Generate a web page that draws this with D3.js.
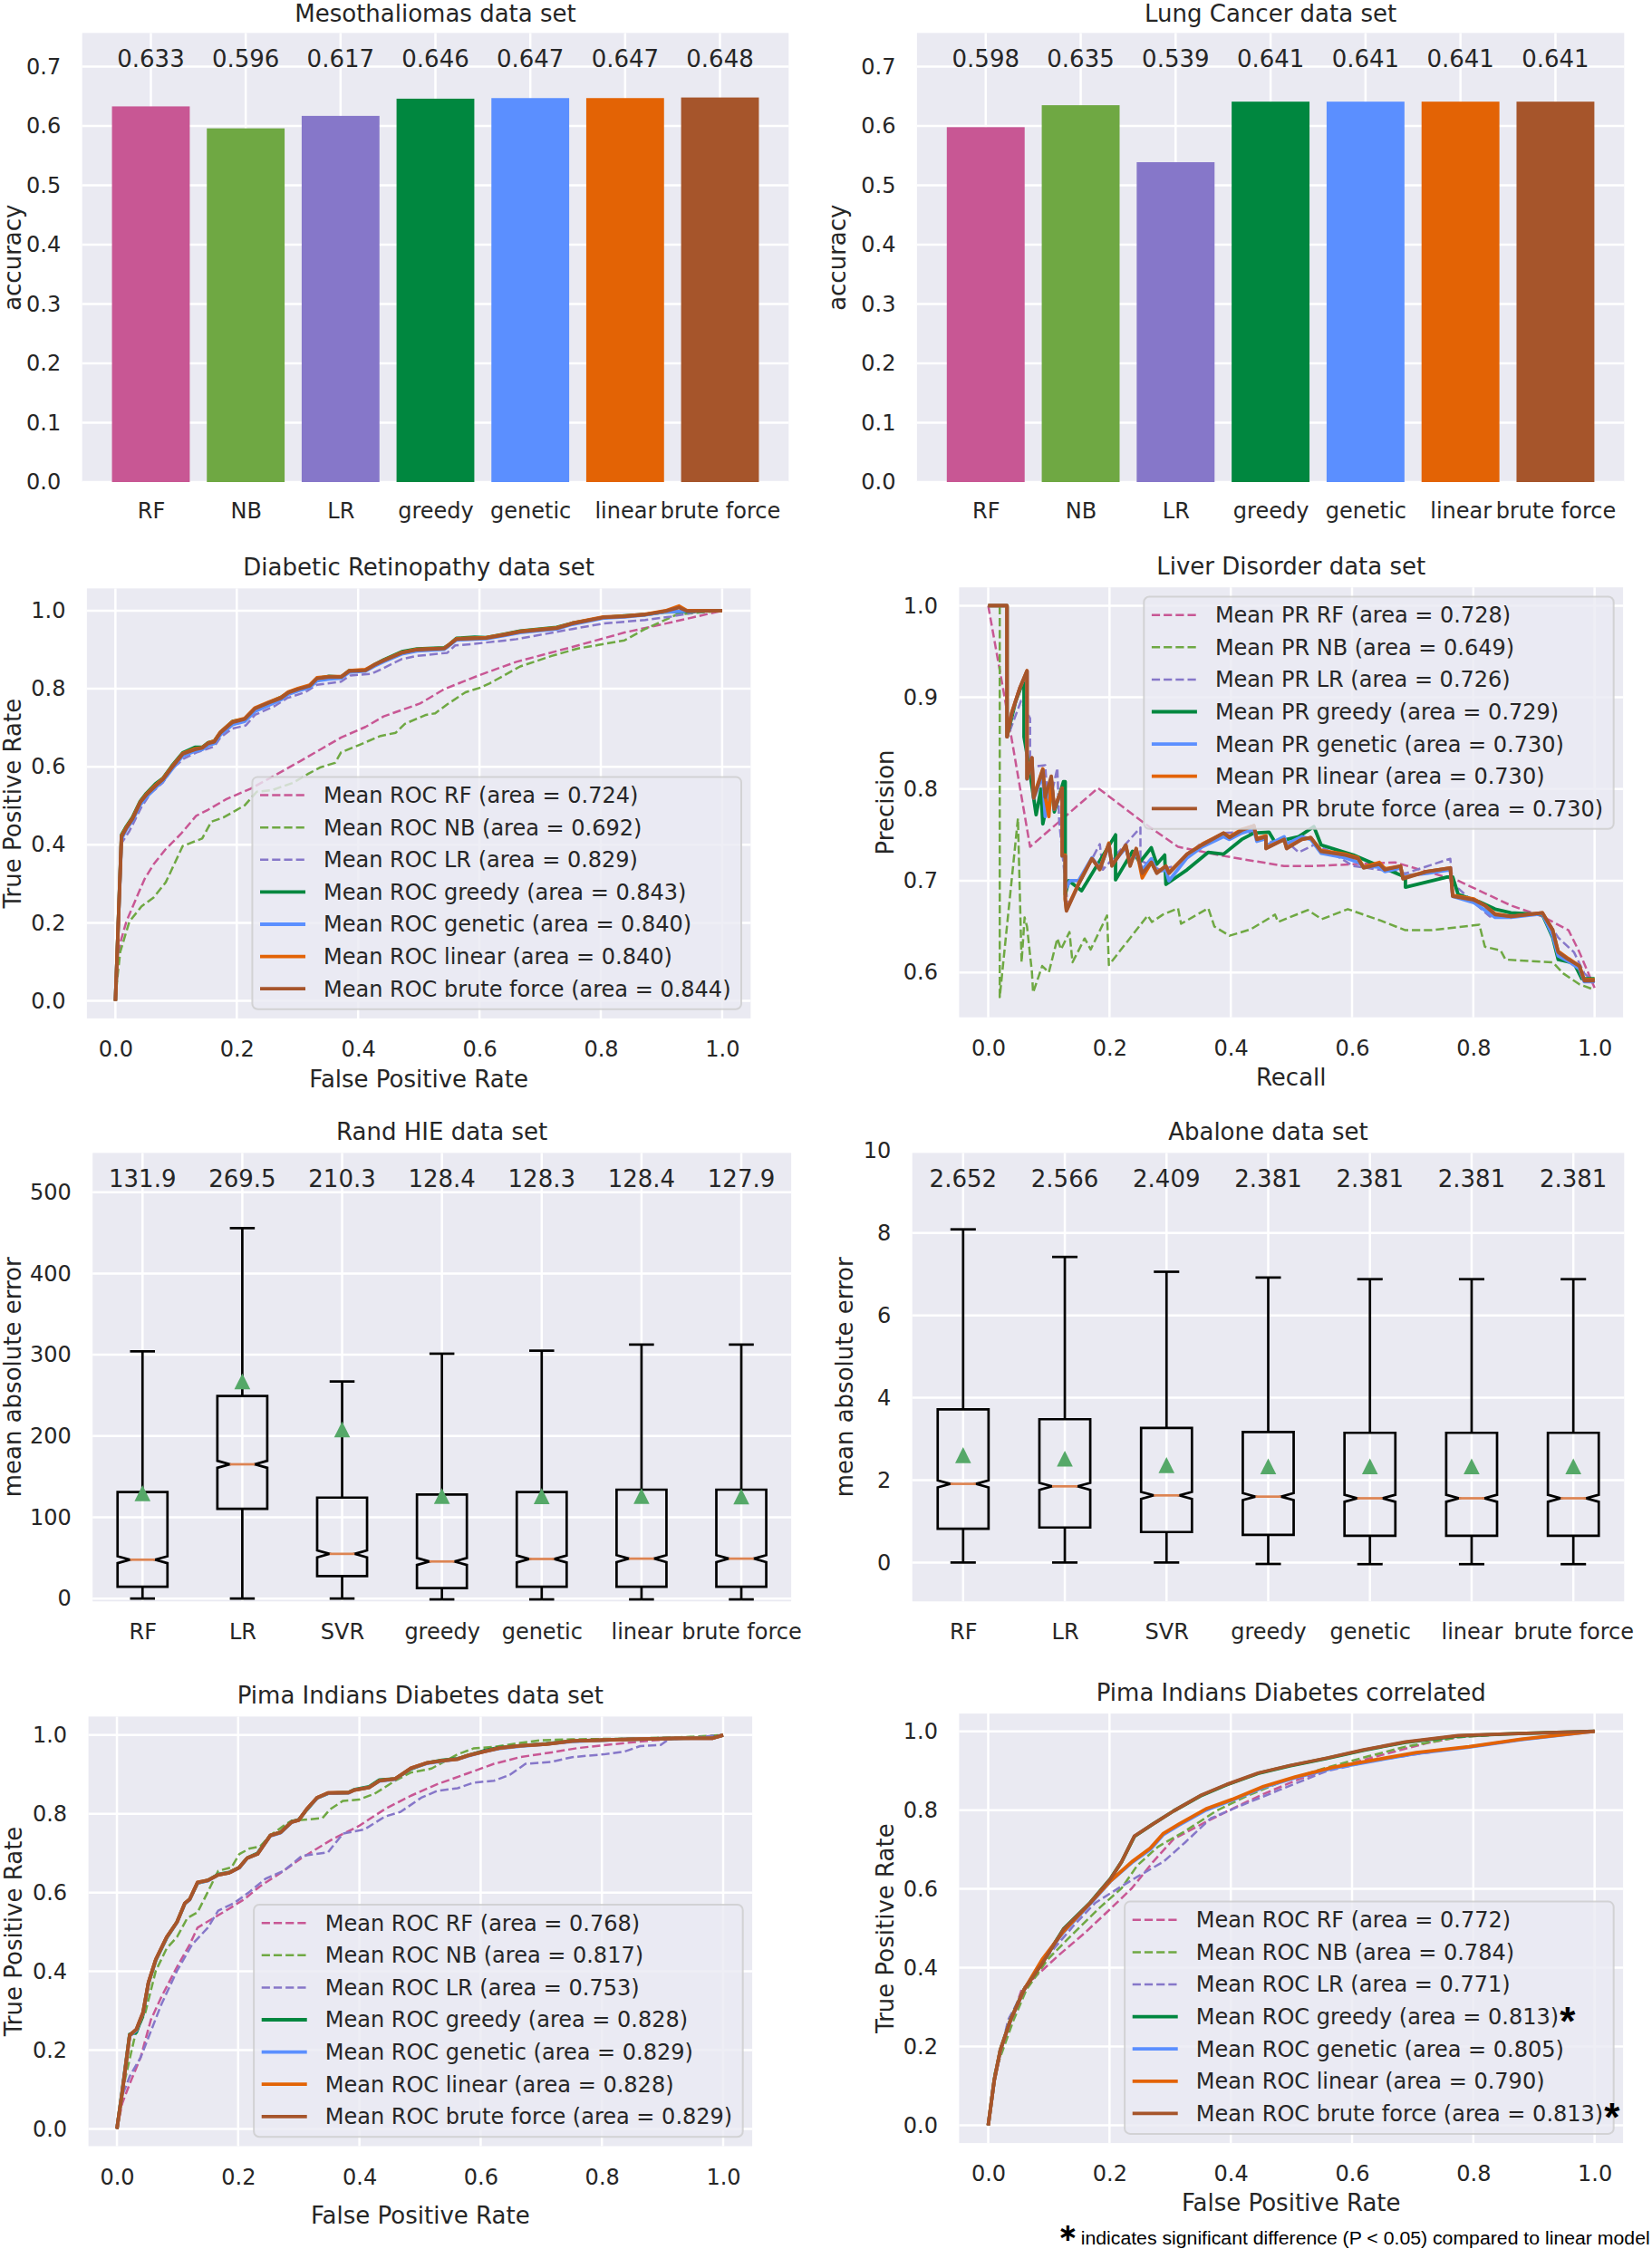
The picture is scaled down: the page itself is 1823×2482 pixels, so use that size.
<!DOCTYPE html>
<html>
<head>
<meta charset="utf-8">
<script src="https://cdn.jsdelivr.net/npm/d3@7"></script>
<style>
body { margin: 0; background: #fff; }
svg text { font-family: "DejaVu Sans", sans-serif; fill: #262626; }
</style>
</head>
<body>
<script>
// ---------- data ----------
var barModels = ["RF", "NB", "LR", "greedy", "genetic", "linear", "brute force"];
var boxModels = ["RF", "LR", "SVR", "greedy", "genetic", "linear", "brute force"];
var curveModels = ["RF", "NB", "LR", "greedy", "genetic", "linear", "brute force"];

var mesoAcc = [0.633, 0.596, 0.617, 0.646, 0.647, 0.647, 0.648];
var lungAcc = [0.598, 0.635, 0.539, 0.641, 0.641, 0.641, 0.641];
var accTicks = [0, 0.1, 0.2, 0.3, 0.4, 0.5, 0.6, 0.7];
var rateTicks = [0, 0.2, 0.4, 0.6, 0.8, 1.0];
var precTicks = [0.6, 0.7, 0.8, 0.9, 1.0];
var randTicks = [0, 100, 200, 300, 400, 500];
var abaTicks = [0, 2, 4, 6, 8, 10];

// Rand HIE boxplots
var randMean = [131.9, 269.5, 210.3, 128.4, 128.3, 128.4, 127.9];
var randLo   = [0, 0, 0, -1, -1, -1, -1];
var randQ1   = [14.5, 110.5, 27.7, 12.8, 14.5, 14.5, 14.5];
var randMed  = [47.8, 165.2, 55, 45.6, 48.7, 49.1, 49.1];
var randQ3   = [131, 249.3, 124.2, 128, 131, 134, 134];
var randHi   = [304.2, 455.8, 267.1, 301.3, 305, 312.5, 312.5];
var randCI   = [4.3, 4.3, 4.3, 4.3, 4.3, 4.3, 4.3];

// Abalone boxplots
var abaMean = [2.652, 2.566, 2.409, 2.381, 2.381, 2.381, 2.381];
var abaLo   = [0, 0, 0, -0.035, -0.04, -0.04, -0.04];
var abaQ1   = [0.82, 0.85, 0.74, 0.67, 0.65, 0.65, 0.65];
var abaMed  = [1.91, 1.85, 1.63, 1.60, 1.56, 1.56, 1.56];
var abaQ3   = [3.72, 3.48, 3.27, 3.17, 3.15, 3.15, 3.15];
var abaHi   = [8.09, 7.42, 7.06, 6.92, 6.88, 6.88, 6.88];
var abaCI   = [0.085, 0.085, 0.085, 0.085, 0.085, 0.085, 0.085];

// Diabetic Retinopathy ROC
var drArea = [0.724, 0.692, 0.829, 0.843, 0.840, 0.840, 0.844];
var drRF = [[0,0],[0.003,0.072],[0.008,0.149],[0.018,0.203],[0.033,0.258],[0.048,0.312],[0.063,0.35],[0.083,0.389],[0.108,0.428],[0.133,0.474],[0.153,0.49],[0.183,0.517],[0.223,0.544],[0.263,0.578],[0.303,0.613],[0.342,0.648],[0.372,0.675],[0.412,0.702],[0.442,0.729],[0.502,0.762],[0.542,0.799],[0.602,0.836],[0.661,0.869],[0.753,0.907],[0.839,0.944],[0.907,0.967],[1,1]];
var drNB = [[0,0],[0.003,0.056],[0.008,0.126],[0.023,0.203],[0.043,0.242],[0.063,0.265],[0.083,0.304],[0.111,0.397],[0.143,0.416],[0.158,0.459],[0.178,0.47],[0.213,0.501],[0.233,0.536],[0.258,0.54],[0.293,0.559],[0.318,0.582],[0.337,0.598],[0.362,0.61],[0.372,0.637],[0.402,0.656],[0.437,0.679],[0.462,0.687],[0.477,0.71],[0.512,0.733],[0.527,0.737],[0.547,0.76],[0.577,0.791],[0.602,0.803],[0.617,0.814],[0.636,0.83],[0.667,0.857],[0.719,0.884],[0.762,0.903],[0.796,0.912],[0.839,0.924],[0.873,0.953],[0.925,0.99],[1,1]];
var drLR = [[0,0],[0.01,0.404],[0.023,0.435],[0.043,0.497],[0.058,0.532],[0.078,0.559],[0.093,0.594],[0.113,0.621],[0.133,0.636],[0.163,0.652],[0.173,0.675],[0.193,0.698],[0.215,0.706],[0.23,0.733],[0.263,0.756],[0.283,0.776],[0.313,0.791],[0.332,0.81],[0.372,0.818],[0.387,0.834],[0.422,0.838],[0.442,0.853],[0.472,0.876],[0.497,0.884],[0.547,0.892],[0.56,0.911],[0.592,0.915],[0.661,0.927],[0.753,0.953],[0.804,0.967],[0.873,0.976],[0.916,0.985],[0.959,0.997],[1,1]];
var drGreedy = [[0,0],[0.01,0.425],[0.018,0.447],[0.028,0.47],[0.041,0.512],[0.051,0.532],[0.066,0.556],[0.078,0.57],[0.093,0.602],[0.111,0.636],[0.131,0.65],[0.143,0.65],[0.153,0.662],[0.163,0.666],[0.173,0.688],[0.193,0.716],[0.213,0.722],[0.23,0.748],[0.253,0.764],[0.273,0.778],[0.285,0.79],[0.302,0.8],[0.32,0.807],[0.332,0.826],[0.352,0.832],[0.372,0.83],[0.385,0.846],[0.412,0.847],[0.427,0.862],[0.442,0.874],[0.472,0.895],[0.497,0.902],[0.542,0.905],[0.549,0.912],[0.562,0.929],[0.592,0.932],[0.611,0.931],[0.641,0.94],[0.667,0.948],[0.727,0.957],[0.753,0.968],[0.804,0.982],[0.839,0.987],[0.873,0.99],[0.907,0.997],[0.942,0.998],[1,1]];
var drGenetic = [[0,0],[0.01,0.415],[0.018,0.44],[0.028,0.462],[0.041,0.503],[0.051,0.522],[0.066,0.546],[0.078,0.563],[0.093,0.593],[0.111,0.628],[0.131,0.64],[0.143,0.644],[0.153,0.655],[0.163,0.66],[0.173,0.682],[0.193,0.708],[0.213,0.716],[0.23,0.742],[0.253,0.758],[0.273,0.772],[0.285,0.786],[0.302,0.795],[0.32,0.803],[0.332,0.82],[0.352,0.825],[0.372,0.827],[0.385,0.842],[0.412,0.845],[0.427,0.858],[0.442,0.869],[0.472,0.889],[0.497,0.897],[0.542,0.901],[0.549,0.909],[0.562,0.925],[0.592,0.927],[0.611,0.928],[0.641,0.936],[0.667,0.944],[0.727,0.953],[0.753,0.965],[0.804,0.981],[0.839,0.984],[0.873,0.989],[0.907,0.997],[0.942,0.999],[1,1]];
var drLinear = [[0,0],[0.01,0.423],[0.018,0.445],[0.028,0.468],[0.041,0.51],[0.051,0.53],[0.066,0.553],[0.078,0.569],[0.093,0.6],[0.111,0.634],[0.131,0.646],[0.143,0.649],[0.153,0.661],[0.163,0.666],[0.173,0.689],[0.193,0.716],[0.213,0.724],[0.23,0.751],[0.253,0.766],[0.273,0.778],[0.285,0.792],[0.302,0.801],[0.32,0.809],[0.332,0.828],[0.352,0.831],[0.372,0.831],[0.385,0.846],[0.412,0.849],[0.427,0.862],[0.442,0.873],[0.472,0.893],[0.497,0.901],[0.542,0.904],[0.549,0.912],[0.562,0.928],[0.592,0.93],[0.611,0.931],[0.641,0.939],[0.667,0.947],[0.727,0.956],[0.753,0.968],[0.804,0.984],[0.839,0.986],[0.873,0.991],[0.907,1.0],[0.929,1.012],[0.942,1.0],[1,1]];
var drBrute = [[0,0],[0.01,0.42],[0.018,0.443],[0.028,0.466],[0.041,0.509],[0.051,0.528],[0.066,0.551],[0.078,0.567],[0.093,0.598],[0.111,0.633],[0.131,0.644],[0.143,0.648],[0.153,0.66],[0.163,0.664],[0.173,0.687],[0.193,0.714],[0.213,0.722],[0.23,0.749],[0.253,0.764],[0.273,0.776],[0.285,0.79],[0.302,0.799],[0.32,0.807],[0.332,0.826],[0.352,0.83],[0.372,0.83],[0.385,0.845],[0.412,0.847],[0.427,0.861],[0.442,0.872],[0.472,0.892],[0.497,0.9],[0.542,0.903],[0.549,0.911],[0.562,0.927],[0.592,0.929],[0.611,0.93],[0.641,0.938],[0.667,0.946],[0.727,0.955],[0.753,0.967],[0.804,0.983],[0.839,0.985],[0.873,0.99],[0.907,0.999],[0.929,1.008],[0.942,0.999],[1,1]];

// Liver Disorder PR
var liverArea = [0.728, 0.649, 0.726, 0.729, 0.730, 0.730, 0.730];
var liverRF = [[0,1],[0.027,0.9],[0.069,0.737],[0.181,0.801],[0.259,0.762],[0.313,0.737],[0.388,0.727],[0.488,0.716],[0.537,0.716],[0.602,0.718],[0.671,0.72],[0.775,0.7],[0.862,0.673],[0.914,0.661],[0.957,0.646],[0.975,0.622],[1,0.583]];
var liverNB = [[0,1],[0.019,1],[0.019,0.573],[0.049,0.768],[0.052,0.689],[0.055,0.611],[0.06,0.66],[0.064,0.65],[0.068,0.625],[0.072,0.601],[0.074,0.578],[0.089,0.607],[0.1,0.6],[0.114,0.637],[0.12,0.625],[0.134,0.644],[0.139,0.611],[0.159,0.637],[0.169,0.625],[0.196,0.662],[0.199,0.608],[0.263,0.662],[0.27,0.655],[0.288,0.663],[0.313,0.67],[0.318,0.653],[0.363,0.67],[0.373,0.65],[0.398,0.64],[0.433,0.647],[0.473,0.663],[0.478,0.655],[0.527,0.668],[0.55,0.658],[0.593,0.669],[0.645,0.657],[0.688,0.646],[0.732,0.646],[0.81,0.652],[0.819,0.628],[0.845,0.624],[0.853,0.614],[0.931,0.611],[0.948,0.599],[0.975,0.587],[1,0.581]];
var liverLR = [[0,1],[0.03,1],[0.032,0.857],[0.054,0.896],[0.069,0.877],[0.069,0.824],[0.094,0.826],[0.099,0.778],[0.114,0.823],[0.117,0.765],[0.131,0.673],[0.184,0.74],[0.189,0.712],[0.251,0.758],[0.251,0.722],[0.283,0.712],[0.308,0.716],[0.348,0.739],[0.388,0.752],[0.413,0.753],[0.438,0.752],[0.463,0.742],[0.488,0.745],[0.512,0.731],[0.537,0.739],[0.558,0.734],[0.602,0.716],[0.688,0.708],[0.762,0.724],[0.766,0.697],[0.827,0.661],[0.914,0.665],[0.94,0.638],[0.966,0.622],[0.983,0.599],[1,0.589]];
var liverGreedy = [[0,1],[0.031,1],[0.031,0.857],[0.045,0.895],[0.059,0.92],[0.059,0.857],[0.066,0.83],[0.079,0.772],[0.087,0.8],[0.09,0.762],[0.104,0.805],[0.109,0.775],[0.124,0.808],[0.127,0.808],[0.127,0.685],[0.133,0.7],[0.154,0.689],[0.21,0.75],[0.21,0.701],[0.238,0.732],[0.25,0.72],[0.269,0.736],[0.278,0.718],[0.291,0.728],[0.293,0.696],[0.328,0.712],[0.363,0.731],[0.388,0.729],[0.418,0.745],[0.438,0.752],[0.463,0.753],[0.473,0.742],[0.512,0.748],[0.537,0.759],[0.549,0.739],[0.602,0.728],[0.645,0.716],[0.688,0.704],[0.688,0.693],[0.757,0.704],[0.766,0.704],[0.775,0.685],[0.81,0.677],[0.836,0.669],[0.862,0.665],[0.914,0.663],[0.931,0.638],[0.94,0.614],[0.966,0.61],[0.979,0.593],[1,0.593]];
var liverGenetic = [[0,1],[0.031,1],[0.031,0.857],[0.039,0.883],[0.052,0.91],[0.064,0.928],[0.064,0.811],[0.072,0.834],[0.075,0.79],[0.09,0.815],[0.094,0.77],[0.104,0.81],[0.109,0.778],[0.122,0.8],[0.122,0.727],[0.127,0.727],[0.127,0.69],[0.135,0.7],[0.149,0.7],[0.171,0.725],[0.184,0.714],[0.199,0.738],[0.204,0.718],[0.227,0.736],[0.234,0.72],[0.244,0.73],[0.254,0.712],[0.269,0.724],[0.278,0.71],[0.293,0.712],[0.298,0.7],[0.328,0.725],[0.353,0.737],[0.388,0.748],[0.398,0.745],[0.418,0.752],[0.438,0.756],[0.443,0.743],[0.458,0.746],[0.458,0.738],[0.488,0.748],[0.492,0.74],[0.517,0.748],[0.532,0.745],[0.549,0.73],[0.589,0.725],[0.61,0.72],[0.619,0.716],[0.645,0.715],[0.654,0.71],[0.68,0.714],[0.684,0.705],[0.723,0.708],[0.762,0.712],[0.766,0.683],[0.801,0.676],[0.819,0.668],[0.836,0.66],[0.862,0.66],[0.914,0.664],[0.931,0.64],[0.94,0.618],[0.957,0.612],[0.975,0.604],[0.983,0.59],[1,0.59]];
var liverLinear = [[0,1],[0.031,1],[0.031,0.857],[0.039,0.884],[0.052,0.91],[0.064,0.929],[0.064,0.812],[0.072,0.834],[0.075,0.792],[0.09,0.822],[0.094,0.792],[0.1,0.77],[0.104,0.81],[0.109,0.779],[0.122,0.801],[0.122,0.728],[0.127,0.728],[0.127,0.68],[0.129,0.668],[0.149,0.697],[0.171,0.724],[0.184,0.713],[0.199,0.741],[0.204,0.717],[0.227,0.738],[0.234,0.717],[0.244,0.735],[0.254,0.703],[0.269,0.72],[0.278,0.709],[0.293,0.716],[0.298,0.709],[0.328,0.729],[0.353,0.74],[0.388,0.752],[0.398,0.748],[0.418,0.756],[0.438,0.76],[0.443,0.746],[0.458,0.749],[0.458,0.736],[0.488,0.745],[0.492,0.736],[0.517,0.745],[0.532,0.747],[0.549,0.733],[0.589,0.729],[0.61,0.725],[0.619,0.715],[0.645,0.72],[0.654,0.713],[0.68,0.716],[0.684,0.703],[0.723,0.71],[0.762,0.714],[0.766,0.684],[0.801,0.68],[0.819,0.673],[0.836,0.664],[0.862,0.661],[0.914,0.665],[0.931,0.646],[0.94,0.623],[0.957,0.615],[0.975,0.607],[0.983,0.592],[1,0.592]];
var liverBrute = [[0,1],[0.031,1],[0.031,0.857],[0.039,0.883],[0.052,0.91],[0.064,0.929],[0.064,0.811],[0.072,0.834],[0.075,0.79],[0.09,0.821],[0.094,0.791],[0.104,0.814],[0.109,0.778],[0.122,0.801],[0.122,0.727],[0.127,0.727],[0.127,0.68],[0.129,0.667],[0.149,0.696],[0.171,0.724],[0.184,0.712],[0.199,0.74],[0.204,0.716],[0.227,0.739],[0.234,0.716],[0.244,0.735],[0.254,0.708],[0.269,0.72],[0.278,0.708],[0.293,0.716],[0.298,0.708],[0.328,0.729],[0.353,0.739],[0.388,0.752],[0.398,0.747],[0.418,0.755],[0.438,0.76],[0.443,0.745],[0.458,0.748],[0.458,0.735],[0.488,0.745],[0.492,0.735],[0.517,0.745],[0.532,0.747],[0.549,0.732],[0.589,0.728],[0.61,0.724],[0.619,0.714],[0.645,0.718],[0.654,0.712],[0.68,0.716],[0.684,0.702],[0.723,0.71],[0.762,0.714],[0.766,0.683],[0.801,0.679],[0.819,0.673],[0.836,0.663],[0.862,0.661],[0.914,0.665],[0.931,0.646],[0.94,0.622],[0.957,0.614],[0.975,0.607],[0.983,0.591],[1,0.591]];

// Pima Indians Diabetes ROC
var pimaArea = [0.768, 0.817, 0.753, 0.828, 0.829, 0.828, 0.829];
var pimaRF = [[0,0],[0.009,0.066],[0.021,0.114],[0.039,0.181],[0.056,0.277],[0.073,0.334],[0.099,0.411],[0.12,0.468],[0.133,0.511],[0.159,0.535],[0.185,0.559],[0.21,0.583],[0.236,0.616],[0.27,0.65],[0.305,0.688],[0.356,0.736],[0.399,0.769],[0.442,0.812],[0.485,0.846],[0.528,0.875],[0.579,0.903],[0.622,0.927],[0.665,0.944],[0.717,0.956],[0.76,0.967],[0.82,0.977],[0.888,0.987],[0.948,0.992],[1,1]];
var pimaNB = [[0,0],[0.013,0.123],[0.03,0.238],[0.047,0.296],[0.064,0.401],[0.082,0.458],[0.099,0.487],[0.116,0.535],[0.133,0.55],[0.15,0.602],[0.167,0.655],[0.189,0.664],[0.202,0.698],[0.219,0.712],[0.236,0.717],[0.253,0.745],[0.279,0.774],[0.288,0.782],[0.339,0.789],[0.352,0.812],[0.373,0.833],[0.399,0.836],[0.425,0.851],[0.459,0.884],[0.485,0.905],[0.519,0.915],[0.545,0.937],[0.562,0.951],[0.588,0.966],[0.622,0.97],[0.665,0.98],[0.7,0.987],[0.751,0.989],[0.837,0.991],[0.923,0.994],[1,1]];
var pimaLR = [[0,0],[0.009,0.085],[0.021,0.133],[0.039,0.181],[0.056,0.248],[0.073,0.315],[0.099,0.401],[0.124,0.468],[0.15,0.511],[0.167,0.554],[0.193,0.573],[0.219,0.602],[0.245,0.635],[0.275,0.655],[0.305,0.693],[0.348,0.702],[0.373,0.75],[0.408,0.76],[0.442,0.793],[0.468,0.805],[0.502,0.841],[0.528,0.858],[0.562,0.865],[0.588,0.879],[0.622,0.884],[0.648,0.899],[0.674,0.927],[0.717,0.932],[0.751,0.944],[0.803,0.951],[0.837,0.958],[0.863,0.972],[0.897,0.975],[0.91,0.989],[1,1]];
var pimaGreedy = [[0,0],[0.009,0.1],[0.021,0.24],[0.032,0.245],[0.043,0.29],[0.052,0.37],[0.064,0.428],[0.082,0.485],[0.099,0.525],[0.112,0.572],[0.12,0.583],[0.133,0.624],[0.15,0.631],[0.167,0.646],[0.185,0.651],[0.202,0.664],[0.215,0.688],[0.232,0.7],[0.253,0.745],[0.27,0.753],[0.288,0.78],[0.3,0.785],[0.313,0.81],[0.33,0.84],[0.348,0.852],[0.382,0.854],[0.391,0.861],[0.416,0.869],[0.433,0.886],[0.459,0.889],[0.485,0.914],[0.511,0.929],[0.536,0.936],[0.562,0.94],[0.579,0.948],[0.605,0.96],[0.631,0.968],[0.665,0.973],[0.708,0.978],[0.751,0.985],[0.837,0.989],[0.923,0.992],[0.983,0.993],[1,1]];
var pimaGenetic = [[0,0],[0.009,0.097],[0.021,0.236],[0.032,0.25],[0.043,0.294],[0.052,0.371],[0.064,0.429],[0.082,0.486],[0.099,0.524],[0.112,0.572],[0.12,0.582],[0.133,0.625],[0.15,0.63],[0.167,0.645],[0.185,0.65],[0.202,0.663],[0.215,0.687],[0.232,0.698],[0.253,0.744],[0.27,0.752],[0.288,0.778],[0.3,0.784],[0.313,0.811],[0.33,0.84],[0.348,0.852],[0.382,0.853],[0.391,0.86],[0.416,0.867],[0.433,0.883],[0.459,0.888],[0.485,0.915],[0.511,0.928],[0.536,0.934],[0.562,0.939],[0.579,0.947],[0.605,0.958],[0.631,0.966],[0.665,0.972],[0.708,0.977],[0.751,0.984],[0.837,0.989],[0.923,0.992],[0.983,0.992],[1,1]];
var pimaLinear = [[0,0],[0.009,0.096],[0.021,0.238],[0.032,0.252],[0.043,0.295],[0.052,0.372],[0.064,0.43],[0.082,0.487],[0.099,0.525],[0.112,0.573],[0.12,0.583],[0.133,0.626],[0.15,0.631],[0.167,0.645],[0.185,0.65],[0.202,0.664],[0.215,0.688],[0.232,0.698],[0.253,0.745],[0.27,0.753],[0.288,0.779],[0.3,0.784],[0.313,0.812],[0.33,0.841],[0.348,0.853],[0.382,0.854],[0.391,0.86],[0.416,0.867],[0.433,0.884],[0.459,0.889],[0.485,0.916],[0.511,0.929],[0.536,0.935],[0.562,0.939],[0.579,0.948],[0.605,0.958],[0.631,0.967],[0.665,0.973],[0.708,0.977],[0.751,0.985],[0.837,0.989],[0.923,0.992],[0.983,0.992],[1,1]];
var pimaBrute = [[0,0],[0.009,0.095],[0.021,0.238],[0.032,0.253],[0.043,0.296],[0.052,0.372],[0.064,0.43],[0.082,0.487],[0.099,0.525],[0.112,0.573],[0.12,0.583],[0.133,0.626],[0.15,0.631],[0.167,0.645],[0.185,0.65],[0.202,0.664],[0.215,0.688],[0.232,0.698],[0.253,0.745],[0.27,0.753],[0.288,0.779],[0.3,0.784],[0.313,0.812],[0.33,0.841],[0.348,0.853],[0.382,0.854],[0.391,0.86],[0.416,0.867],[0.433,0.884],[0.459,0.889],[0.485,0.916],[0.511,0.929],[0.536,0.935],[0.562,0.939],[0.579,0.948],[0.605,0.958],[0.631,0.967],[0.665,0.973],[0.708,0.977],[0.751,0.985],[0.837,0.989],[0.923,0.992],[0.983,0.992],[1,1]];

// Pima Indians Diabetes correlated ROC
var pcArea = [0.772, 0.784, 0.771, 0.813, 0.805, 0.790, 0.813];
var pcSignificant = [false, false, false, true, false, false, true];
var pcRF = [[0,0],[0.011,0.124],[0.029,0.229],[0.055,0.344],[0.081,0.382],[0.115,0.43],[0.159,0.488],[0.202,0.55],[0.237,0.602],[0.272,0.669],[0.306,0.727],[0.359,0.77],[0.402,0.803],[0.454,0.841],[0.515,0.88],[0.584,0.913],[0.654,0.942],[0.723,0.97],[0.775,0.985],[0.862,0.994],[1,1]];
var pcNB = [[0,0],[0.011,0.134],[0.024,0.191],[0.042,0.268],[0.063,0.344],[0.098,0.421],[0.141,0.488],[0.185,0.554],[0.22,0.602],[0.246,0.66],[0.28,0.707],[0.324,0.746],[0.376,0.798],[0.428,0.837],[0.489,0.875],[0.558,0.908],[0.628,0.937],[0.688,0.961],[0.775,0.985],[0.862,0.994],[1,1]];
var pcLR = [[0,0],[0.011,0.124],[0.033,0.268],[0.059,0.344],[0.098,0.43],[0.141,0.507],[0.176,0.564],[0.22,0.607],[0.246,0.631],[0.289,0.669],[0.324,0.717],[0.367,0.779],[0.419,0.813],[0.48,0.851],[0.558,0.899],[0.628,0.923],[0.706,0.942],[0.793,0.961],[0.888,0.98],[1,1]];
var pcGreedy = [[0,0],[0.01,0.116],[0.02,0.192],[0.037,0.269],[0.059,0.345],[0.089,0.412],[0.124,0.498],[0.168,0.565],[0.202,0.627],[0.22,0.669],[0.241,0.733],[0.272,0.765],[0.306,0.798],[0.35,0.836],[0.393,0.864],[0.445,0.893],[0.497,0.912],[0.558,0.931],[0.619,0.952],[0.688,0.972],[0.775,0.988],[0.862,0.994],[1,1]];
var pcGenetic = [[0,0],[0.01,0.114],[0.02,0.19],[0.037,0.267],[0.059,0.343],[0.089,0.419],[0.124,0.49],[0.168,0.562],[0.202,0.62],[0.237,0.667],[0.267,0.7],[0.289,0.738],[0.315,0.762],[0.359,0.8],[0.402,0.825],[0.454,0.858],[0.506,0.882],[0.567,0.906],[0.636,0.925],[0.706,0.944],[0.793,0.96],[0.879,0.979],[1,1]];
var pcLinear = [[0,0],[0.01,0.115],[0.02,0.191],[0.037,0.268],[0.059,0.344],[0.089,0.421],[0.124,0.492],[0.168,0.564],[0.202,0.621],[0.237,0.669],[0.267,0.703],[0.289,0.741],[0.315,0.765],[0.359,0.803],[0.402,0.827],[0.454,0.86],[0.506,0.884],[0.567,0.908],[0.636,0.927],[0.706,0.946],[0.793,0.961],[0.879,0.98],[1,1]];
var pcBrute = [[0,0],[0.01,0.115],[0.02,0.191],[0.037,0.268],[0.059,0.344],[0.089,0.411],[0.124,0.497],[0.168,0.564],[0.202,0.626],[0.22,0.669],[0.241,0.734],[0.272,0.765],[0.306,0.798],[0.35,0.837],[0.393,0.865],[0.445,0.894],[0.497,0.913],[0.558,0.932],[0.619,0.953],[0.688,0.973],[0.775,0.989],[0.862,0.994],[1,1]];

// ---------- styles ----------
var colors = ["#c85794", "#6fa843", "#8677c9", "#00873f", "#5b8fff", "#e36305", "#a6552b"];
var dashedModel = [true, true, true, false, false, false, false];
var bgColor = "#eaeaf2";

var W = 1823, H = 2482;
var svg = d3.select("body").append("svg").attr("width", W).attr("height", H);

// panel rectangles (axes area, in pixels)
var P1 = {l: 90.7, r: 870.3, t: 36.4, b: 532};
var P2 = {l: 1011.9, r: 1792.3, t: 36.4, b: 532};
var P3 = {l: 95.9, r: 828.4, t: 649.4, b: 1123.9};
var P4 = {l: 1058.4, r: 1791.1, t: 648.2, b: 1122.7};
var P5 = {l: 102.2, r: 873.1, t: 1272.4, b: 1767.3};
var P6 = {l: 1006.7, r: 1792.3, t: 1272.4, b: 1767.3};
var P7 = {l: 97.6, r: 830.1, t: 1894.4, b: 2368.5};
var P8 = {l: 1058.4, r: 1791.1, t: 1891.1, b: 2365.1};

function frame(P, xd, yd, xgrid, ygrid) {
  var f = {P: P};
  f.x = d3.scaleLinear().domain(xd).range([P.l, P.r]);
  f.y = d3.scaleLinear().domain(yd).range([P.b, P.t]);
  f.g = svg.append("g");
  f.g.append("rect").attr("x", P.l).attr("y", P.t)
     .attr("width", P.r - P.l).attr("height", P.b - P.t).attr("fill", bgColor);
  f.g.selectAll(null).data(xgrid).enter().append("line")
     .attr("x1", d => f.x(d)).attr("x2", d => f.x(d))
     .attr("y1", P.t).attr("y2", P.b)
     .attr("stroke", "#fff").attr("stroke-width", 2.5);
  f.g.selectAll(null).data(ygrid).enter().append("line")
     .attr("y1", d => f.y(d)).attr("y2", d => f.y(d))
     .attr("x1", P.l).attr("x2", P.r)
     .attr("stroke", "#fff").attr("stroke-width", 2.5);
  return f;
}

function axes(f, xt, xfmt, yt, yfmt, xpad) {
  var P = f.P;
  var bx = f.g.append("g").attr("transform", "translate(0," + P.b + ")")
    .call(d3.axisBottom(f.x).tickValues(xt).tickSize(0).tickPadding(xpad).tickFormat(xfmt));
  var ly = f.g.append("g").attr("transform", "translate(" + P.l + ",0)")
    .call(d3.axisLeft(f.y).tickValues(yt).tickSize(0).tickPadding(23.5).tickFormat(yfmt));
  [bx, ly].forEach(function(a) {
    a.attr("font-family", null).attr("font-size", 24);
    a.select(".domain").remove();
    a.selectAll("text").attr("fill", "#262626");
  });
}

function labels(f, title, xlab, xlabOff, ylab, ylabX) {
  var P = f.P, cx = (P.l + P.r) / 2, cy = (P.t + P.b) / 2;
  f.g.append("text").attr("x", cx).attr("y", Math.max(P.t - 14.6, 24))
     .attr("text-anchor", "middle").attr("font-size", 26).text(title);
  if (xlab) f.g.append("text").attr("x", cx).attr("y", P.b + xlabOff)
     .attr("text-anchor", "middle").attr("font-size", 26).text(xlab);
  f.g.append("text").attr("transform", "translate(" + ylabX + "," + cy + ") rotate(-90)")
     .attr("text-anchor", "middle").attr("font-size", 26).text(ylab);
}

function barPanel(P, title, vals, ylabX) {
  var idx = d3.range(barModels.length);
  var f = frame(P, [-0.724, 6.724], [0, 0.7567], idx, accTicks);
  f.g.selectAll(null).data(vals).enter().append("rect")
     .attr("x", (d, i) => f.x(i - 0.41)).attr("width", (d, i) => f.x(i + 0.41) - f.x(i - 0.41))
     .attr("y", d => f.y(d)).attr("height", d => f.y(0) - f.y(d))
     .attr("fill", (d, i) => colors[i]);
  f.g.selectAll(null).data(vals).enter().append("text")
     .attr("x", (d, i) => f.x(i)).attr("y", P.t + 37.1)
     .attr("text-anchor", "middle").attr("font-size", 26)
     .text(d => d3.format(".3f")(d));
  axes(f, idx, i => barModels[i], accTicks, d3.format(".1f"), 23);
  labels(f, title, null, 0, "accuracy", ylabX);
}

function boxPanel(P, title, yd, yt, st, fmtMean, ylabX) {
  var pos = d3.range(1, 8);
  var f = frame(P, [0.5, 7.5], yd, pos, yt);
  var w = 0.5;
  pos.forEach(function(p, i) {
    var bl = f.x(p - w / 2), br = f.x(p + w / 2);
    var nl = f.x(p - w / 4), nr = f.x(p + w / 4);
    var q1 = f.y(st.q1[i]), q3 = f.y(st.q3[i]), md = f.y(st.med[i]);
    var clo = f.y(st.med[i] - st.ci[i]), chi = f.y(st.med[i] + st.ci[i]);
    var pts = [[bl, q1], [br, q1], [br, clo], [nr, md], [br, chi], [br, q3],
               [bl, q3], [bl, chi], [nl, md], [bl, clo]];
    var cx = f.x(p);
    var line = d3.line();
    f.g.append("path").attr("d", line(pts) + "Z").attr("fill", "none")
       .attr("stroke", "#000").attr("stroke-width", 2.7);
    // whiskers and caps
    [[st.q1[i], st.lo[i]], [st.q3[i], st.hi[i]]].forEach(function(wk) {
      f.g.append("line").attr("x1", cx).attr("x2", cx)
         .attr("y1", f.y(wk[0])).attr("y2", f.y(wk[1]))
         .attr("stroke", "#000").attr("stroke-width", 2.7);
      f.g.append("line").attr("x1", f.x(p - w / 4)).attr("x2", f.x(p + w / 4))
         .attr("y1", f.y(wk[1])).attr("y2", f.y(wk[1]))
         .attr("stroke", "#000").attr("stroke-width", 2.7);
    });
    f.g.append("line").attr("x1", nl).attr("x2", nr).attr("y1", md).attr("y2", md)
       .attr("stroke", "#dd8452").attr("stroke-width", 2.7);
    var my = f.y(st.mean[i]);
    f.g.append("path")
       .attr("d", "M" + cx + "," + (my - 8.8) + "L" + (cx + 8.8) + "," + (my + 8.8) +
                  "L" + (cx - 8.8) + "," + (my + 8.8) + "Z")
       .attr("transform", "translate(0,2)")
       .attr("fill", "#55a868");
  });
  f.g.selectAll(null).data(st.mean).enter().append("text")
     .attr("x", (d, i) => f.x(i + 1)).attr("y", P.t + 37.5)
     .attr("text-anchor", "middle").attr("font-size", 26)
     .text(d => fmtMean(d));
  axes(f, pos, i => boxModels[i - 1], yt, d3.format("d"), 25);
  labels(f, title, null, 0, "mean absolute error", ylabX);
}

function curvePanel(P, xd, yd, yt, series, kind, areas, title, xlab, xlabOff, ylab, ylabX, corner, stars) {
  var f = frame(P, xd, yd, rateTicks, yt);
  var line = d3.line().x(d => f.x(d[0])).y(d => f.y(d[1]));
  series.forEach(function(s, i) {
    f.g.append("path").attr("d", line(s)).attr("fill", "none")
       .attr("stroke", colors[i])
       .attr("stroke-width", dashedModel[i] ? 2.5 : 3.8)
       .attr("stroke-dasharray", dashedModel[i] ? "9.2,4" : null)
       .attr("stroke-linejoin", "round");
  });
  axes(f, rateTicks, d3.format(".1f"), yt, d3.format(".1f"), 25);
  labels(f, title, xlab, xlabOff, ylab, ylabX);

  // legend
  var lg = f.g.append("g");
  var box = lg.append("rect");
  var texts = [];
  curveModels.forEach(function(m, i) {
    texts.push(lg.append("text").attr("font-size", 24)
      .text("Mean " + kind + " " + m + " (area = " + areas[i].toFixed(3) + ")"));
  });
  var maxLen = d3.max(texts, t => t.node().getComputedTextLength());
  var bw = maxLen + 90.1, bh = 256.3, step = 35.6;
  var bxL = P.r - 10.4 - bw;
  var bxT = corner === "ur" ? P.t + 10.3 : P.b - 10.2 - bh;
  box.attr("x", bxL).attr("y", bxT).attr("width", bw).attr("height", bh)
     .attr("rx", 6).attr("fill", bgColor).attr("fill-opacity", 0.8)
     .attr("stroke", "#cccccc").attr("stroke-opacity", 0.8).attr("stroke-width", 2);
  curveModels.forEach(function(m, i) {
    var cy = bxT + 20.2 + i * step;
    lg.append("line").attr("x1", bxL + 8.6).attr("x2", bxL + 58.6)
      .attr("y1", cy).attr("y2", cy).attr("stroke", colors[i])
      .attr("stroke-width", dashedModel[i] ? 2.5 : 3.8)
      .attr("stroke-dasharray", dashedModel[i] ? "9.2,4" : null);
    texts[i].attr("x", bxL + 78.6).attr("y", cy + 8.4);
    if (stars && stars[i]) {
      lg.append("text").attr("x", bxL + 78.6 + texts[i].node().getComputedTextLength() + 1)
        .attr("y", cy + 20).attr("font-size", 44).attr("font-weight", "bold")
        .style("font-family", "'Liberation Sans', sans-serif").style("fill", "#000")
        .text("*");
    }
  });
  texts.forEach(t => t.raise());
  return f;
}

// ---------- panels ----------
barPanel(P1, "Mesothaliomas data set", mesoAcc, 22.5);
barPanel(P2, "Lung Cancer data set", lungAcc, 933);

curvePanel(P3, [-0.047, 1.047], [-0.045, 1.057], rateTicks,
  [drRF, drNB, drLR, drGreedy, drGenetic, drLinear, drBrute], "ROC", drArea,
  "Diabetic Retinopathy data set", "False Positive Rate", 76.3, "True Positive Rate", 22.5, "lr");

curvePanel(P4, [-0.048, 1.047], [0.551, 1.020], precTicks,
  [liverRF, liverNB, liverLR, liverGreedy, liverGenetic, liverLinear, liverBrute], "PR", liverArea,
  "Liver Disorder data set", "Recall", 75.2, "Precision", 986, "ur");

boxPanel(P5, "Rand HIE data set", [-3.5, 548.3], randTicks,
  {lo: randLo, q1: randQ1, med: randMed, q3: randQ3, hi: randHi, ci: randCI, mean: randMean},
  d3.format(".1f"), 23);

boxPanel(P6, "Abalone data set", [-0.944, 9.945], abaTicks,
  {lo: abaLo, q1: abaQ1, med: abaMed, q3: abaQ3, hi: abaHi, ci: abaCI, mean: abaMean},
  d3.format(".3f"), 941);

curvePanel(P7, [-0.047, 1.048], [-0.044, 1.047], rateTicks,
  [pimaRF, pimaNB, pimaLR, pimaGreedy, pimaGenetic, pimaLinear, pimaBrute], "ROC", pimaArea,
  "Pima Indians Diabetes data set", "False Positive Rate", 85.2, "True Positive Rate", 24, "lr");

curvePanel(P8, [-0.048, 1.047], [-0.045, 1.045], rateTicks,
  [pcRF, pcNB, pcLR, pcGreedy, pcGenetic, pcLinear, pcBrute], "ROC", pcArea,
  "Pima Indians Diabetes correlated", "False Positive Rate", 75.3, "True Positive Rate", 986, "lr",
  pcSignificant);

// footnote
svg.append("text").attr("x", 1167).attr("y", 2473).attr("font-size", 27).attr("font-weight", "bold")
   .style("fill", "#000").text("\u2217");
svg.append("text").attr("x", 1192.7).attr("y", 2476.5).attr("font-size", 20)
   .style("font-family", "'Liberation Sans', sans-serif").style("fill", "#000")
   .attr("textLength", 628).attr("lengthAdjust", "spacingAndGlyphs")
   .text("indicates significant difference (P < 0.05) compared to linear model");
</script>
</body>
</html>
